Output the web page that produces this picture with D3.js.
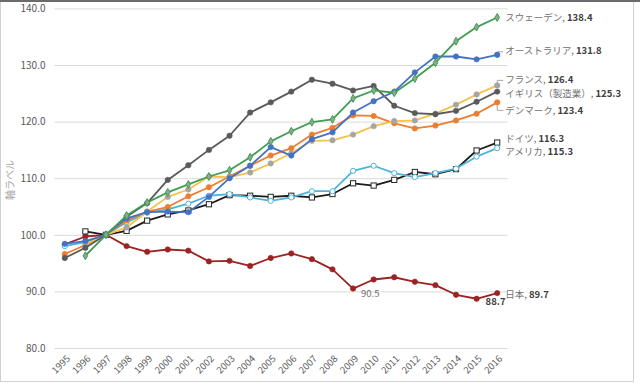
<!DOCTYPE html>
<html>
<head>
<meta charset="utf-8">
<script src="https://cdn.jsdelivr.net/npm/d3@7"></script>
<style>
  body { margin: 0; background: #fff; }
  svg text { font-family: "Noto Sans CJK JP", "Noto Sans", sans-serif; }
</style>
</head>
<body>
<svg id="chart" width="640" height="385"></svg>
<script>
// 製造業 労働生産性の推移（1997 = 100）
const years = ["1995", "1996", "1997", "1998", "1999", "2000", "2001", "2002", "2003", "2004", "2005",
    "2006", "2007", "2008", "2009", "2010", "2011", "2012", "2013", "2014", "2015", "2016"];
const yTicks = [80, 90, 100, 110, 120, 130, 140];

const names = ["日本", "ドイツ", "アメリカ", "デンマーク", "フランス", "イギリス（製造業）", "オーストラリア", "スウェーデン"];

const japan = [98.3, 99.7, 100, 98.0, 97.0, 97.4, 97.2, 95.3, 95.4, 94.5, 95.9,
    96.7, 95.7, 93.9, 90.5, 92.1, 92.5, 91.7, 91.1, 89.4, 88.7, 89.7];
const germany = [null, 100.6, 100, 100.7, 102.5, 103.6, 104.3, 105.4, 107.0, 106.9, 106.7,
    106.9, 106.6, 107.2, 109.1, 108.7, 109.7, 111.1, 110.7, 111.6, 114.9, 116.3];
const usa = [98.0, 98.7, 100, 102.2, 103.9, 104.5, 105.5, 106.9, 107.2, 106.6, 106.0,
    106.6, 107.7, 107.7, 111.3, 112.2, 110.9, 110.2, 110.9, 111.7, 113.8, 115.3];
const denmark = [96.6, 98.2, 100, 102.5, 104.1, 104.9, 106.8, 108.4, 110.3, 112.2, 114.0,
    115.3, 117.7, 118.9, 121.1, 121.0, 119.7, 118.8, 119.3, 120.2, 121.4, 123.4];
const france = [null, 98.3, 100, 101.3, 104.1, 106.7, 108.0, 110.3, 110.2, 111.0, 112.6,
    114.4, 116.6, 116.7, 117.7, 119.2, 120.1, 120.2, 121.4, 123.0, 124.8, 126.4];
const uk = [95.9, 97.7, 100, 103.2, 105.6, 109.7, 112.3, 115.0, 117.5, 121.6, 123.4,
    125.3, 127.4, 126.7, 125.5, 126.3, 122.8, 121.5, 121.3, 121.9, 123.5, 125.3];
const australia = [98.4, 98.9, 100, 102.9, 104.0, 104.1, 104.0, 106.7, 110.0, 112.2, 115.5,
    114.0, 116.9, 118.1, 121.6, 123.6, 125.3, 128.7, 131.5, 131.5, 131.0, 131.8];
const sweden = [null, 96.3, 100, 103.4, 105.7, 107.5, 108.9, 110.3, 111.4, 113.7, 116.5,
    118.3, 119.9, 120.4, 124.1, 125.5, 125.1, 127.6, 130.4, 134.2, 136.7, 138.4];

// extra data labels inside the plot (日本)
const japanNotes = [{year: "2009", value: 90.5}, {year: "2015", value: 88.7}];

const W = 640, H = 385;
const svg = d3.select("#chart");

// look of each series, in drawing order
const looks = [
    {line: "#9c2323", marker: "circle", fill: "#9c2323", stroke: "#9c2323", dy: 2},
    {line: "#1c1c1c", marker: "square", fill: "#ffffff", stroke: "#262626", dy: -4},
    {line: "#4fb4dc", marker: "circle", fill: "#ffffff", stroke: "#4fb4dc", dy: 3, open: true},
    {line: "#ed7d31", marker: "circle", fill: "#ed7d31", stroke: "#ed7d31", dy: 8, leader: true},
    {line: "#f4c246", marker: "circle", fill: "#a5a5a5", stroke: "#a5a5a5", dy: -6, leader: true},
    {line: "#5a5a5a", marker: "circle", fill: "#5a5a5a", stroke: "#5a5a5a", dy: 2},
    {line: "#4472c4", marker: "circle", fill: "#4472c4", stroke: "#4472c4", dy: -4, leader: true},
    {line: "#3f9e4f", marker: "diamond", fill: "#8fa894", stroke: "#3f9e4f", dy: 0}
];
const values = [japan, germany, usa, denmark, france, uk, australia, sweden];

const series = names.map((n, i) => ({
    name: n,
    look: looks[i],
    points: years.map((y, j) => ({year: y, value: values[i][j]})).filter(d => d.value !== null)
}));

// frame of the screenshot
svg.append("rect").attr("x", 0.5).attr("y", 0.5).attr("width", 633).attr("height", 381)
    .attr("fill", "#fff").attr("stroke", "#d0d0d0");
svg.append("line").attr("x1", 0).attr("x2", W).attr("y1", 1).attr("y2", 1)
    .attr("stroke", "#6b6b6b").attr("stroke-width", 2);

const x = d3.scalePoint().domain(years).range([54.5, 507.5]).padding(0.5);
const y = d3.scaleLinear().domain([80, 140]).range([348, 8.4]);

// gridlines + y labels
const yAxis = d3.axisLeft(y).tickValues(yTicks).tickFormat(d3.format(".1f"))
    .tickSize(-(507.5 - 54.5)).tickPadding(9);
const gy = svg.append("g").attr("transform", "translate(54.5,0)").call(yAxis);
gy.select(".domain").remove();
gy.selectAll(".tick line").attr("stroke", "#d9d9d9").attr("stroke-width", 1);
gy.selectAll(".tick text").attr("fill", "#595959").attr("font-size", 10);

// x labels, rotated
const xAxis = d3.axisBottom(x).tickSize(0).tickPadding(0);
const gx = svg.append("g").attr("transform", "translate(0,348)").call(xAxis);
gx.select(".domain").remove();
gx.selectAll(".tick text")
    .attr("fill", "#595959").attr("font-size", 9.5)
    .attr("text-anchor", "end")
    .attr("transform", "translate(3,9) rotate(-45)")
    .attr("dy", "0.35em");

// axis title
svg.append("text")
    .attr("transform", "translate(10,180) rotate(-90)")
    .attr("text-anchor", "middle").attr("dy", "0.35em")
    .attr("fill", "#a6a6a6").attr("font-size", 10)
    .text("軸ラベル");

const line = d3.line().x(d => x(d.year)).y(d => y(d.value));

const groups = svg.append("g").selectAll("g").data(series).enter().append("g");

groups.append("path")
    .attr("d", d => line(d.points))
    .attr("fill", "none")
    .attr("stroke", d => d.look.line)
    .attr("stroke-width", 1.8)
    .attr("stroke-linejoin", "round");

groups.each(function (s) {
    const g = d3.select(this);
    const lk = s.look;
    if (lk.marker === "square") {
        g.selectAll("rect").data(s.points).enter().append("rect")
            .attr("x", d => x(d.year) - 2.6).attr("y", d => y(d.value) - 2.6)
            .attr("width", 5.2).attr("height", 5.2)
            .attr("fill", lk.fill).attr("stroke", lk.stroke).attr("stroke-width", 1);
    } else if (lk.marker === "diamond") {
        g.selectAll("path.m").data(s.points).enter().append("path").attr("class", "m")
            .attr("d", d3.symbol(d3.symbolDiamond, 18))
            .attr("transform", d => `translate(${x(d.year)},${y(d.value)})`)
            .attr("fill", lk.fill).attr("stroke", lk.stroke).attr("stroke-width", 1);
    } else {
        g.selectAll("circle").data(s.points).enter().append("circle")
            .attr("cx", d => x(d.year)).attr("cy", d => y(d.value))
            .attr("r", lk.open ? 2.6 : 2.7)
            .attr("fill", lk.fill).attr("stroke", lk.stroke).attr("stroke-width", lk.open ? 1 : 0.6);
    }
});

// end labels
const ends = series.map(s => {
    const last = s.points[s.points.length - 1];
    return {name: s.name, value: last.value, year: last.year, look: s.look};
});

svg.append("g").selectAll("path").data(ends.filter(d => d.look.leader)).enter().append("path")
    .attr("d", d => {
        const px = x(d.year), py = y(d.value), ly = py + d.look.dy + (d.look.dy > 0 ? 0 : 1);
        return `M${px},${py} V${ly} H${px + 6}`;
    })
    .attr("fill", "none").attr("stroke", "#a6a6a6").attr("stroke-width", 1);

// redraw last markers over leader lines
svg.append("g").selectAll("circle").data(ends.filter(d => d.look.leader)).enter().append("circle")
    .attr("cx", d => x(d.year)).attr("cy", d => y(d.value)).attr("r", 2.7)
    .attr("fill", d => d.look.fill);

const lab = svg.append("g").selectAll("text").data(ends).enter().append("text")
    .attr("x", d => x(d.year) + 8)
    .attr("y", d => y(d.value) + d.look.dy)
    .attr("dy", "0.35em")
    .attr("font-size", 9.5);
lab.append("tspan").attr("fill", "#707070").text(d => d.name + ", ");
lab.append("tspan").attr("fill", "#404040").attr("font-weight", "bold").text(d => d3.format(".1f")(d.value));

// inner data labels for 日本
svg.append("g").selectAll("text").data(japanNotes).enter().append("text")
    .attr("x", d => x(d.year) + (d.year === "2009" ? 8 : 9))
    .attr("y", d => y(d.value) + (d.year === "2009" ? 5 : 3))
    .attr("dy", "0.35em")
    .attr("font-size", 9.5)
    .attr("font-weight", d => d.year === "2009" ? "normal" : "bold")
    .attr("fill", d => d.year === "2009" ? "#707070" : "#404040")
    .text(d => d3.format(".1f")(d.value));
</script>
</body>
</html>
